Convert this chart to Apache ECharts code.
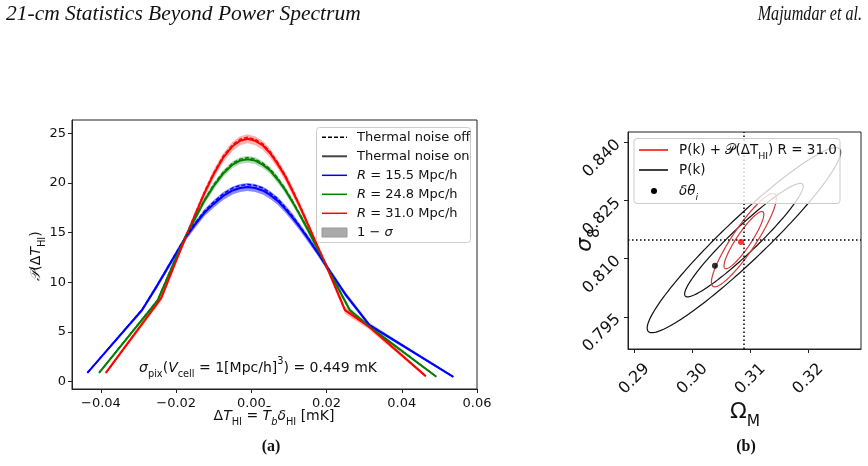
<!DOCTYPE html>
<html>
<head>
<meta charset="utf-8">
<script src="https://cdn.jsdelivr.net/npm/echarts@6/dist/echarts.min.js"></script>
<style>
html, body { margin: 0; background: #fff; }
#chart { width: 868px; height: 466px; }
</style>
</head>
<body>
<div id="chart"></div>
<script>
// panel (a): PDF of Delta T_HI for three smoothing scales
const blueX = [-0.0436, -0.0291, -0.025, -0.020, -0.0175, -0.015, -0.0125, -0.010, -0.0075, -0.005, -0.003, -0.001, 0.001, 0.003, 0.005, 0.007, 0.009, 0.011, 0.013, 0.015, 0.0175, 0.020, 0.025, 0.0314, 0.0537]
const blueOn = [0.9, 7.2, 9.7, 12.9, 14.5, 15.8, 17.0, 17.9, 18.7, 19.25, 19.5, 19.6, 19.5, 19.25, 18.8, 18.2, 17.4, 16.5, 15.5, 14.45, 13.05, 11.6, 8.8, 5.7, 0.5]
const blueOff = [0.9, 7.25, 9.75, 13.0, 14.6, 15.95, 17.15, 18.1, 18.9, 19.5, 19.75, 19.85, 19.75, 19.5, 19.0, 18.4, 17.55, 16.65, 15.6, 14.55, 13.1, 11.65, 8.8, 5.7, 0.5]
const blueErr = [0.1, 0.2, 0.25, 0.3, 0.3, 0.35, 0.35, 0.4, 0.4, 0.4, 0.4, 0.4, 0.4, 0.4, 0.4, 0.4, 0.4, 0.4, 0.35, 0.35, 0.3, 0.3, 0.25, 0.2, 0.1]

const greenX = [-0.0405, -0.0249, -0.020, -0.0175, -0.015, -0.0125, -0.010, -0.0075, -0.005, -0.003, -0.001, 0.001, 0.003, 0.005, 0.007, 0.009, 0.011, 0.013, 0.015, 0.0175, 0.020, 0.0262, 0.0312, 0.0492]
const greenOn = [0.9, 8.2, 12.5, 14.6, 16.4, 18.2, 19.7, 20.95, 21.85, 22.25, 22.4, 22.25, 21.85, 21.25, 20.35, 19.3, 18.05, 16.7, 15.3, 13.45, 11.6, 7.2, 5.6, 0.5]
const greenOff = [0.9, 8.25, 12.6, 14.7, 16.5, 18.3, 19.85, 21.1, 22.0, 22.4, 22.55, 22.4, 22.0, 21.4, 20.5, 19.4, 18.15, 16.8, 15.4, 13.5, 11.65, 7.2, 5.6, 0.5]
const greenErr = [0.1, 0.2, 0.25, 0.3, 0.3, 0.35, 0.35, 0.35, 0.35, 0.35, 0.35, 0.35, 0.35, 0.35, 0.35, 0.35, 0.35, 0.3, 0.3, 0.3, 0.3, 0.25, 0.2, 0.1]

const redX = [-0.0387, -0.0240, -0.020, -0.0175, -0.015, -0.0125, -0.010, -0.0075, -0.005, -0.003, -0.001, 0.001, 0.003, 0.005, 0.007, 0.009, 0.011, 0.013, 0.015, 0.0175, 0.020, 0.0249, 0.0311, 0.0464]
const redOn = [0.9, 8.4, 12.2, 14.5, 16.75, 18.95, 20.9, 22.55, 23.7, 24.25, 24.45, 24.25, 23.8, 23.0, 21.9, 20.65, 19.15, 17.55, 15.85, 13.7, 11.6, 7.2, 5.6, 0.55]
const redOff = [0.9, 8.45, 12.3, 14.6, 16.85, 19.1, 21.05, 22.7, 23.85, 24.4, 24.6, 24.4, 23.95, 23.15, 22.05, 20.8, 19.25, 17.65, 15.9, 13.75, 11.65, 7.2, 5.6, 0.55]
const redErr = [0.15, 0.3, 0.35, 0.35, 0.4, 0.4, 0.45, 0.45, 0.45, 0.45, 0.45, 0.45, 0.45, 0.45, 0.45, 0.45, 0.45, 0.4, 0.4, 0.35, 0.35, 0.35, 0.3, 0.15]

const ticksXa = [-0.04, -0.02, 0.0, 0.02, 0.04, 0.06]
const ticksYa = [0, 5, 10, 15, 20, 25]

// panel (b): Fisher contours in (Omega_M, sigma_8)
const fiducial = [0.3089, 0.8148]
const shiftCombo = [0.3084, 0.8143]
const shiftPk = [0.3039, 0.8082]
const pkSigma = [0.00673, 0.00963]
const pkRho = 0.95
const comboSigma = [0.00226, 0.00486]
const comboRho = 0.9
const contourScale = [1.52, 2.48]

const ticksXb = [0.29, 0.30, 0.31, 0.32]
const ticksYb = [0.795, 0.810, 0.825, 0.840]

const FONT = 'DejaVu Sans'
const SERIF = 'Liberation Serif'

function zip(xs, ys) {
  return xs.map((x, i) => [x, ys[i]])
}

function minusFmt(d) {
  return v => (v < 0 ? '\u2212' : '') + Math.abs(v).toFixed(d)
}

function richStyles(size) {
  return {
    i: { fontStyle: 'italic', fontSize: size, fontFamily: FONT, lineHeight: size * 1.6 },
    sub: { fontSize: size * 0.7, fontFamily: FONT, lineHeight: size, verticalAlign: 'bottom' },
    isub: { fontSize: size * 0.7, fontStyle: 'italic', fontFamily: FONT, lineHeight: size, verticalAlign: 'bottom' },
    sup: { fontSize: size * 0.7, fontFamily: FONT, lineHeight: size * 0.8, verticalAlign: 'top' }
  }
}

function txt(x, y, text, size, extra) {
  return Object.assign({
    type: 'text', x: x, y: y, z: 100,
    style: Object.assign({
      text: text, fontSize: size, fontFamily: FONT, fill: '#111',
      lineHeight: size * 1.6, rich: richStyles(size)
    }, (extra && extra.style) || {})
  }, extra ? { rotation: extra.rotation || 0 } : {})
}

function band(xs, ys, err, color) {
  return {
    type: 'custom', xAxisIndex: 0, yAxisIndex: 0, silent: true, z: 1,
    data: [[xs[0], ys[0]]],
    renderItem: (params, api) => {
      const up = xs.map((x, i) => api.coord([x, ys[i] + err[i]]))
      const lo = xs.map((x, i) => api.coord([x, ys[i] - err[i]])).reverse()
      return { type: 'polygon', shape: { points: up.concat(lo) }, style: { fill: color } }
    }
  }
}

function curve(xs, ys, color, dashed) {
  return {
    type: 'line', xAxisIndex: 0, yAxisIndex: 0, silent: true,
    data: zip(xs, ys), symbol: 'none', z: dashed ? 4 : 3,
    lineStyle: { color: color, width: dashed ? 1.4 : 2, type: dashed ? [4, 2] : 'solid' }
  }
}

function ellipses(sig, rho, color) {
  return {
    type: 'custom', xAxisIndex: 1, yAxisIndex: 1, silent: true, z: 2,
    data: contourScale.map(k => [fiducial[0], fiducial[1], k]),
    renderItem: (params, api) => {
      const cx = api.value(0), cy = api.value(1), k = api.value(2)
      const pts = []
      for (let j = 0; j <= 160; j++) {
        const t = j / 160 * 2 * Math.PI
        const c = Math.cos(t), s = Math.sin(t)
        pts.push(api.coord([cx + k * sig[0] * c, cy + k * sig[1] * (rho * c + Math.sqrt(1 - rho * rho) * s)]))
      }
      return { type: 'polyline', shape: { points: pts }, style: { stroke: color, lineWidth: 1.2, fill: 'none' } }
    }
  }
}

function axisStyle(ticks, fmt, size, labelExtra) {
  return {
    type: 'value',
    axisLine: { show: true, onZero: false, lineStyle: { color: '#222', width: 1 } },
    splitLine: { show: false },
    axisTick: { show: true, customValues: ticks, length: 4, lineStyle: { color: '#222' } },
    axisLabel: Object.assign({ customValues: ticks, formatter: fmt, fontSize: size, fontFamily: FONT, color: '#111' }, labelExtra)
  }
}

const chart = echarts.init(document.getElementById('chart'), null, { renderer: 'canvas' })

const legendA = [
  { label: 'Thermal noise off', color: '#000', dash: [4, 2], w: 1.5 },
  { label: 'Thermal noise on', color: '#444', dash: null, w: 2 },
  { label: '{i|R} = 15.5 Mpc/h', color: '#0000ff', dash: null, w: 1.5 },
  { label: '{i|R} = 24.8 Mpc/h', color: '#008000', dash: null, w: 1.5 },
  { label: '{i|R} = 31.0 Mpc/h', color: '#ff0000', dash: null, w: 1.5 }
]

const graphics = [
  // page header and captions
  { type: 'text', x: 6, y: 3, z: 100, style: { text: '21-cm Statistics Beyond Power Spectrum', fontSize: 21.5, fontStyle: 'italic', fontFamily: SERIF, fill: '#111' } },
  { type: 'text', x: 862, y: 3, z: 100, scaleX: 0.75, style: { text: 'Majumdar et al.', fontSize: 21.5, fontStyle: 'italic', fontFamily: SERIF, fill: '#111', align: 'right' } },
  { type: 'text', x: 271, y: 447, z: 100, style: { text: '(a)', fontSize: 16, fontWeight: 'bold', fontFamily: SERIF, fill: '#111', align: 'center', verticalAlign: 'middle' } },
  { type: 'text', x: 746, y: 447, z: 100, style: { text: '(b)', fontSize: 16, fontWeight: 'bold', fontFamily: SERIF, fill: '#111', align: 'center', verticalAlign: 'middle' } },

  // panel (a) axis titles and annotation
  txt(274, 416, '\u0394{i|T}{sub|HI} = {i|T\u0304}{isub|b}{i|\u03b4}{sub|HI} [mK]', 14, { style: { align: 'center', verticalAlign: 'middle' } }),
  txt(36, 256, '{i|\ud835\udcab}(\u0394{i|T}{sub|HI})', 14, { rotation: Math.PI / 2, style: { align: 'center', verticalAlign: 'middle' } }),
  txt(258, 368, '{i|\u03c3}{sub|pix}({i|V}{sub|cell} = 1[Mpc/h]{sup|3}) = 0.449 mK', 14, { style: { align: 'center', verticalAlign: 'middle' } }),

  // panel (a) legend
  { type: 'rect', z: 90, shape: { x: 316.5, y: 127.5, width: 154, height: 115, r: 3 }, style: { fill: 'rgba(255,255,255,0.8)', stroke: '#ccc', lineWidth: 1 } }
]

legendA.forEach((e, i) => {
  const y = 137.3 + i * 19
  graphics.push({ type: 'line', z: 95, shape: { x1: 322, y1: y, x2: 347, y2: y }, style: { stroke: e.color, lineWidth: e.w, lineDash: e.dash } })
  graphics.push(txt(357, y, e.label, 13, { style: { verticalAlign: 'middle' } }))
})
graphics.push({ type: 'rect', z: 95, shape: { x: 322, y: 228, width: 25, height: 9 }, style: { fill: '#aaa', stroke: '#999', lineWidth: 1 } })
graphics.push(txt(357, 232.3, '1 \u2212 {i|\u03c3}', 13, { style: { verticalAlign: 'middle' } }))

// panel (b) axis titles and legend
graphics.push(txt(745, 412, '\u03a9{sub|M}', 22, { style: { align: 'center', verticalAlign: 'middle' } }))
graphics.push(txt(585, 240, '{i|\u03c3}{sub|8}', 22, { rotation: Math.PI / 2, style: { align: 'center', verticalAlign: 'middle' } }))
graphics.push({ type: 'rect', z: 90, shape: { x: 634, y: 138.5, width: 206, height: 65, r: 3 }, style: { fill: 'rgba(255,255,255,0.8)', stroke: '#ccc', lineWidth: 1 } })
graphics.push({ type: 'line', z: 95, shape: { x1: 639, y1: 150, x2: 668, y2: 150 }, style: { stroke: '#ff0000', lineWidth: 1.5 } })
graphics.push({ type: 'line', z: 95, shape: { x1: 639, y1: 170, x2: 668, y2: 170 }, style: { stroke: '#000', lineWidth: 1.5 } })
graphics.push({ type: 'circle', z: 95, shape: { cx: 654, cy: 191, r: 3 }, style: { fill: '#000' } })
graphics.push(txt(679, 150, 'P(k) + \ud835\udcab(\u0394T{sub|HI}) R = 31.0', 13.5, { style: { verticalAlign: 'middle' } }))
graphics.push(txt(679, 170, 'P(k)', 13.5, { style: { verticalAlign: 'middle' } }))
graphics.push(txt(679, 191, '{i|\u03b4\u03b8}{isub|i}', 13.5, { style: { verticalAlign: 'middle' } }))

chart.setOption({
  animation: false,
  backgroundColor: '#fff',
  grid: [
    { left: 72, top: 120, width: 405, height: 269, show: true, borderColor: '#222', borderWidth: 1 },
    { left: 628, top: 132, width: 233, height: 217, show: true, borderColor: '#222', borderWidth: 1 }
  ],
  xAxis: [
    Object.assign(axisStyle(ticksXa, minusFmt(2), 13, { margin: 8 }), { gridIndex: 0, min: -0.0477, max: 0.06 }),
    Object.assign(axisStyle(ticksXb, v => v.toFixed(2), 16, { rotate: 45, align: 'center', verticalAlign: 'middle', margin: 30 }), { gridIndex: 1, min: 0.2889, max: 0.3291 })
  ],
  yAxis: [
    Object.assign(axisStyle(ticksYa, v => String(v), 13, { margin: 6 }), { gridIndex: 0, min: -0.73, max: 26.34 }),
    Object.assign(axisStyle(ticksYb, v => v.toFixed(3), 16, { rotate: 45, margin: 10 }), { gridIndex: 1, min: 0.7867, max: 0.8427 })
  ],
  graphic: graphics,
  series: [
    band(blueX, blueOn, blueErr, 'rgba(0,0,255,0.45)'),
    band(greenX, greenOn, greenErr, 'rgba(0,128,0,0.3)'),
    band(redX, redOn, redErr, 'rgba(255,0,0,0.3)'),
    curve(blueX, blueOn, '#0000ff', false),
    curve(greenX, greenOn, '#008000', false),
    curve(redX, redOn, '#ff0000', false),
    curve(blueX, blueOff, '#0000ff', true),
    curve(greenX, greenOff, '#008000', true),
    curve(redX, redOff, '#ff0000', true),

    ellipses(pkSigma, pkRho, '#111'),
    ellipses(comboSigma, comboRho, '#d03a3a'),
    {
      type: 'scatter', xAxisIndex: 1, yAxisIndex: 1, silent: true, z: 5,
      data: [shiftPk], symbolSize: 6, itemStyle: { color: '#000' },
      markLine: {
        silent: true, symbol: 'none', precision: 6, label: { show: false },
        lineStyle: { color: '#000', width: 1.5, type: [1.5, 2.5] },
        data: [{ xAxis: fiducial[0] }, { yAxis: fiducial[1] }]
      }
    },
    {
      type: 'scatter', xAxisIndex: 1, yAxisIndex: 1, silent: true, z: 5,
      data: [shiftCombo], symbolSize: 6, itemStyle: { color: '#ff0000' }
    }
  ]
})
</script>
</body>
</html>
